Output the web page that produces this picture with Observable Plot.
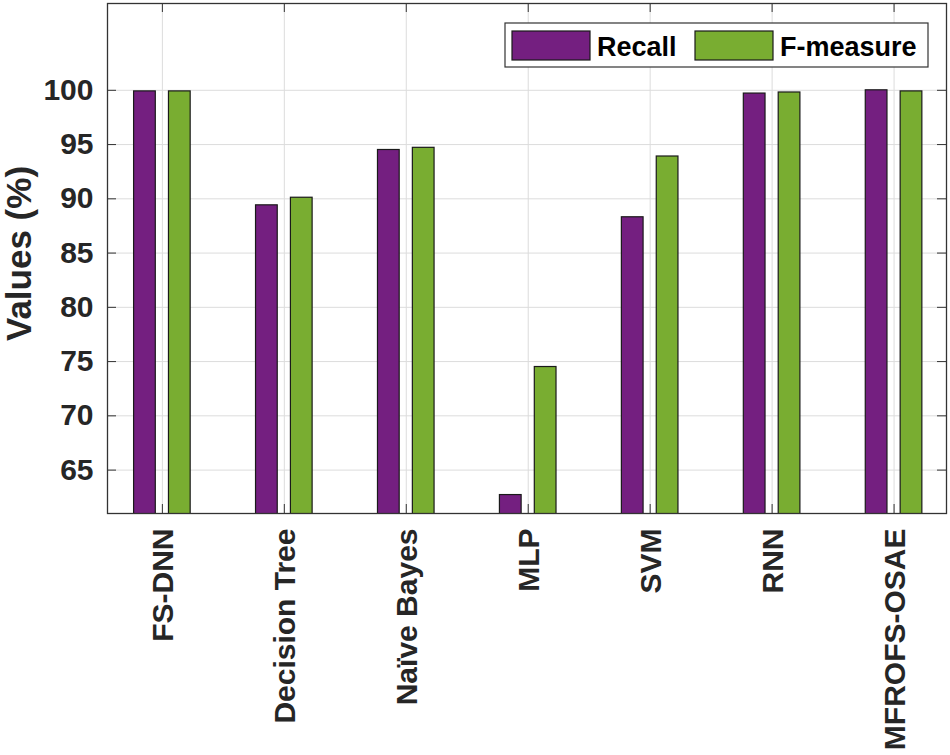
<!DOCTYPE html>
<html><head><meta charset="utf-8">
<script src="https://cdn.jsdelivr.net/npm/d3@7"></script>
<script src="https://cdn.jsdelivr.net/npm/@observablehq/plot@0.6"></script>
<style>body{margin:0;background:#fff;} #chart{width:950px;height:755px;}</style>
</head><body><div id="chart"></div>
<script>
const categories = ["FS-DNN","Decision Tree","Naïve Bayes","MLP","SVM","RNN","MFROFS-OSAE"];
const recall = [99.9, 89.4, 94.5, 62.7, 88.3, 99.7, 100.0];
const fmeasure = [99.9, 90.1, 94.7, 74.5, 93.9, 99.8, 99.9];
const seriesNames = ["Recall","F-measure"];
const seriesColors = ["#741f80","#79ad31"];
const yTicks = [65,70,75,80,85,90,95,100];
const yLabel = "Values (%)";

const rows = [];
categories.forEach((c,i)=>{
  rows.push({cat:c, pos:i+1, series:seriesNames[0], value:recall[i]});
  rows.push({cat:c, pos:i+1, series:seriesNames[1], value:fmeasure[i]});
});
// grouped bar layout (fraction of category step)
const barLo = {"Recall":-0.232, "F-measure":0.054};
const barW = 0.178;

const W=950,H=755, mL=107, mT=3, mR=4, mB=242;
const plotW = W-mL-mR, plotH = H-mT-mB;
const tick = 9;
const positions = categories.map((c,i)=>i+1);
const font = "'Liberation Sans', Arial, Helvetica, sans-serif";

const chart = Plot.plot({
  width:W, height:H, marginLeft:mL, marginTop:mT, marginRight:mR, marginBottom:mB,
  style:{fontFamily:font, background:"#fff"},
  x:{type:"linear", domain:[0.55,7.43], axis:null},
  y:{domain:[61,108], label:null},
  color:{domain:seriesNames, range:seriesColors},
  marks:[
    Plot.gridY(yTicks, {stroke:"#dcdcdc", strokeOpacity:1}),
    Plot.gridX(positions, {stroke:"#dcdcdc", strokeOpacity:1}),
    Plot.rectY(rows, {x1:d=>d.pos+barLo[d.series], x2:d=>d.pos+barLo[d.series]+barW, y1:0, y2:"value", fill:"series", stroke:"#1a1a1a", strokeWidth:1.2, clip:true}),
    Plot.ruleY(yTicks, {insetRight: plotW-tick, stroke:"#333"}),
    Plot.ruleY(yTicks, {insetLeft: plotW-tick, stroke:"#333"}),
    Plot.ruleX(positions, {insetBottom: plotH-tick, stroke:"#333"}),
    Plot.ruleX(positions, {insetTop: plotH-tick, stroke:"#333"}),
    Plot.frame({stroke:"#333", strokeWidth:1.3}),
    Plot.axisY(yTicks, {tickSize:0, tickPadding:14, fontSize:30, fontWeight:"bold", fill:"#262626", label:null}),
    Plot.text(categories, {x:(d,i)=>i+1, frameAnchor:"bottom", rotate:-90, textAnchor:"end", dx:11, dy:15, fontSize:30, fontWeight:"bold", fill:"#262626"}),
    Plot.text([yLabel], {frameAnchor:"left", rotate:-90, textAnchor:"middle", lineAnchor:"bottom", dx:-77, dy:-5, fontSize:35, fontWeight:"bold", fill:"#262626"})
  ]
});
document.getElementById("chart").appendChild(chart);

// legend inside the axes (top-right)
const svg = d3.select(chart);
const lg = svg.append("g").attr("font-family", font).attr("font-weight","bold").attr("font-size",27).attr("text-anchor","start");
lg.append("rect").attr("x",505).attr("y",23).attr("width",423).attr("height",44).attr("fill","#fff").attr("stroke","#333").attr("stroke-width",1.2);
const items = [{name:seriesNames[0], color:seriesColors[0], sx:512, tx:597},{name:seriesNames[1], color:seriesColors[1], sx:695, tx:780}];
items.forEach(it=>{
  lg.append("rect").attr("x",it.sx).attr("y",31).attr("width",78).attr("height",29).attr("fill",it.color).attr("stroke","#1a1a1a").attr("stroke-width",1.2);
  lg.append("text").attr("x",it.tx).attr("y",56).attr("fill","#000").attr("text-anchor","start").text(it.name);
});
</script>
</body></html>
